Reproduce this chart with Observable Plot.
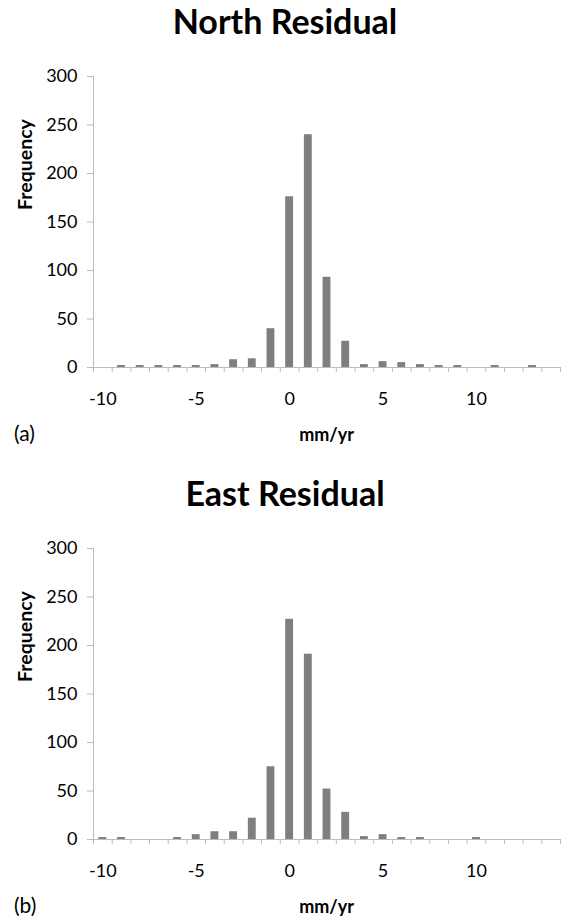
<!DOCTYPE html>
<html>
<head>
<meta charset="utf-8">
<script src="https://cdn.jsdelivr.net/npm/d3@7"></script>
<script src="https://cdn.jsdelivr.net/npm/@observablehq/plot@0.6"></script>
<style>
  html, body { margin: 0; padding: 0; background: #fff; }
  #wrap { position: relative; width: 568px; height: 921px; overflow: hidden; font-family: Lato, "Open Sans", sans-serif; color: #000; }
  .title { position: absolute; left: 0; width: 570px; text-align: center; font-weight: bold; font-size: 34px; line-height: 34px; }
  .tag { position: absolute; left: 14px; font-size: 21px; line-height: 21px; }
  .xlab { position: absolute; left: 93px; width: 467px; text-align: center; font-weight: bold; font-size: 18px; line-height: 18px; }
  .panel { position: absolute; left: 0; }
</style>
</head>
<body>
<div id="wrap">
  <div class="title" style="top:4px">North Residual</div>
  <div class="panel" id="p1" style="top:56px"></div>
  <div class="tag" style="top:422px">(a)</div>
  <div class="xlab" style="top:425px">mm/yr</div>

  <div class="title" style="top:476px">East Residual</div>
  <div class="panel" id="p2" style="top:528px"></div>
  <div class="tag" style="top:894px">(b)</div>
  <div class="xlab" style="top:897px">mm/yr</div>
</div>
<script>
// Histogram bins (mm/yr)
const bins = [-10, -9, -8, -7, -6, -5, -4, -3, -2, -1, 0, 1, 2, 3, 4, 5, 6, 7, 8, 9, 10, 11, 12, 13, 14];
// Frequencies
const northCounts = [0, 2, 2, 2, 2, 2, 3, 8, 9, 40, 176, 240, 93, 27, 3, 6, 5, 3, 2, 2, 0, 2, 0, 2, 0];
const eastCounts  = [2, 2, 0, 0, 2, 5, 8, 8, 22, 75, 227, 191, 52, 28, 3, 5, 2, 2, 0, 0, 2, 0, 0, 0, 0];
// Tick labels
const xTickLabels = [-10, -5, 0, 5, 10];
const yTicks = [0, 50, 100, 150, 200, 250, 300];

const gray = "#bcbcbc";
const barColor = "#7f7f7f";
const binEdges = bins.map(b => b - 0.5).concat([bins[bins.length - 1] + 0.5]);

function panel(counts) {
  const data = bins.map((b, i) => ({bin: b, count: counts[i]})).filter(d => d.count > 0);
  return Plot.plot({
    width: 568,
    height: 380,
    marginTop: 20,
    marginBottom: 69,
    marginLeft: 93,
    marginRight: 8,
    x: {domain: [binEdges[0], binEdges[binEdges.length - 1]]},
    y: {domain: [0, 300]},
    style: {fontFamily: "Lato, 'Open Sans', sans-serif", fontSize: "18px", color: "#000", background: "#fff", overflow: "visible"},
    marks: [
      Plot.rectY(data, {x1: d => d.bin - 0.5, x2: d => d.bin + 0.5, y: "count", fill: barColor, insetLeft: 5.4, insetRight: 5.4}),
      Plot.ruleY([0], {stroke: gray}),
      Plot.ruleX([binEdges[0]], {y1: 0, y2: 300, stroke: gray}),
      Plot.axisY({ticks: yTicks, tickSize: 6, tickPadding: 10, stroke: gray, fill: "#000", label: null, fontSize: 18, textStroke: "none"}),
      Plot.axisX({ticks: binEdges, tickSize: 5, tickFormat: () => "", stroke: gray, label: null}),
      Plot.axisX({ticks: xTickLabels, tickSize: 0, tickPadding: 25, tickFormat: d => String(d), fill: "#000", label: null, fontSize: 18}),
      Plot.text(["Frequency"], {frameAnchor: "left", rotate: -90, dx: -68, dy: -12, fontWeight: "bold", fontSize: 19.5, fill: "#000"})
    ]
  });
}

document.getElementById("p1").appendChild(panel(northCounts));
document.getElementById("p2").appendChild(panel(eastCounts));
</script>
</body>
</html>
